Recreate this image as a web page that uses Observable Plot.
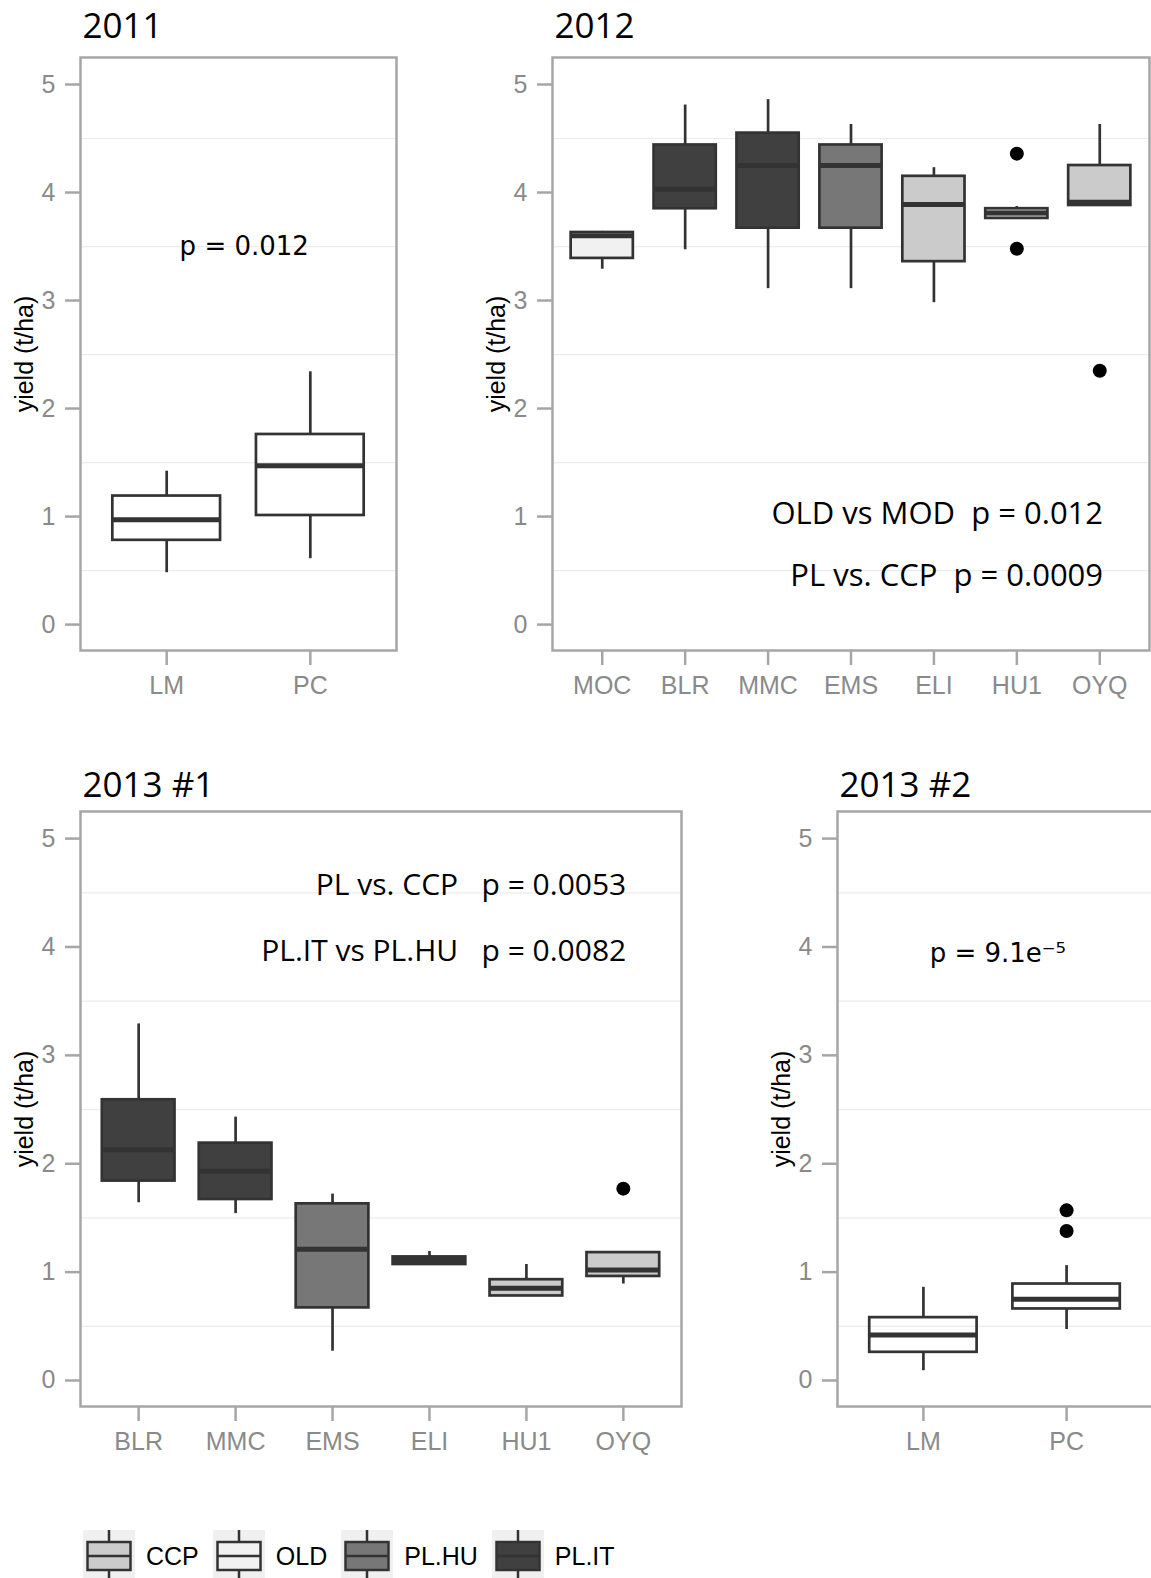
<!DOCTYPE html>
<html>
<head>
<meta charset="utf-8">
<script src="https://cdn.jsdelivr.net/npm/d3@7"></script>
<script src="https://cdn.jsdelivr.net/npm/@observablehq/plot@0.6"></script>
<style>
  html, body { margin: 0; padding: 0; background: #fff; }
  #page { position: relative; width: 1151px; height: 1578px; overflow: hidden; background: #fff; }
  .panel { position: absolute; }
  .panel svg { max-width: none !important; }
  svg text { white-space: pre; }
  #legend { position: absolute; left: 83px; top: 1530px; display: flex; align-items: center;
            font-family: "Liberation Sans", Arial, sans-serif; font-size: 25px; color: #000; }
  #legend span { margin-left: 11px; margin-right: 14px; }
</style>
</head>
<body>
<div id="page"><div id="legend"></div></div>
<script>
// ---------- data ----------
const groups = ["CCP", "OLD", "PL.HU", "PL.IT", "none"];
const groupColors = ["#cbcbcb", "#f1f1f1", "#777777", "#404040", "#ffffff"];
const legendGroups = ["CCP", "OLD", "PL.HU", "PL.IT"];

// 2011
const cats2011 = ["LM", "PC"];
const grp2011 = ["none", "none"];
const lo2011 = [0.48, 0.61];
const q1_2011 = [0.78, 1.01];
const med2011 = [0.97, 1.47];
const q3_2011 = [1.19, 1.76];
const hi2011 = [1.42, 2.34];
const outCat2011 = [];
const outVal2011 = [];
const notes2011 = ["p = 0.012"];
const noteX2011 = [1.54];
const noteY2011 = [3.42];

// 2012
const cats2012 = ["MOC", "BLR", "MMC", "EMS", "ELI", "HU1", "OYQ"];
const grp2012 = ["OLD", "PL.IT", "PL.IT", "PL.HU", "CCP", "CCP", "CCP"];
const lo2012 = [3.29, 3.47, 3.11, 3.11, 2.98, 3.76, 3.88];
const q1_2012 = [3.39, 3.85, 3.67, 3.67, 3.36, 3.76, 3.88];
const med2012 = [3.60, 4.03, 4.25, 4.25, 3.89, 3.81, 3.91];
const q3_2012 = [3.63, 4.44, 4.55, 4.44, 4.15, 3.85, 4.25];
const hi2012 = [3.64, 4.81, 4.86, 4.63, 4.23, 3.87, 4.63];
const outCat2012 = ["HU1", "HU1", "OYQ"];
const outVal2012 = [4.36, 3.48, 2.35];
const notes2012 = ["OLD vs MOD  p = 0.012", "PL vs. CCP  p = 0.0009"];
const noteX2012 = [7.04, 7.04];
const noteY2012 = [0.935, 0.361];

// 2013 #1
const cats2013a = ["BLR", "MMC", "EMS", "ELI", "HU1", "OYQ"];
const grp2013a = ["PL.IT", "PL.IT", "PL.HU", "PL.IT", "CCP", "CCP"];
const lo2013a = [1.64, 1.54, 0.27, 1.07, 0.78, 0.89];
const q1_2013a = [1.84, 1.67, 0.67, 1.07, 0.78, 0.96];
const med2013a = [2.13, 1.93, 1.21, 1.11, 0.85, 1.02];
const q3_2013a = [2.59, 2.19, 1.63, 1.14, 0.93, 1.18];
const hi2013a = [3.29, 2.43, 1.72, 1.19, 1.07, 1.18];
const outCat2013a = ["OYQ"];
const outVal2013a = [1.77];
const notes2013a = ["PL vs. CCP   p = 0.0053", "PL.IT vs PL.HU   p = 0.0082"];
const noteX2013a = [6.03, 6.03];
const noteY2013a = [4.484, 3.875];

// 2013 #2
const cats2013b = ["LM", "PC"];
const grp2013b = ["none", "none"];
const lo2013b = [0.09, 0.47];
const q1_2013b = [0.26, 0.66];
const med2013b = [0.42, 0.75];
const q3_2013b = [0.58, 0.89];
const hi2013b = [0.86, 1.06];
const outCat2013b = ["PC", "PC"];
const outVal2013b = [1.57, 1.38];
const notes2013b = ["p = 9.1e\u207B\u2075"];
const noteX2013b = [1.52];
const noteY2013b = [3.857];

const yTicks = [0, 1, 2, 3, 4, 5];
const yGrid = [0.5, 1.5, 2.5, 3.5, 4.5];
const yLabel = "yield (t/ha)";

// ---------- drawing ----------
const page = document.getElementById("page");
const BOX = "#333333";
const AXIS = "#a6a6a6";

function panel(cfg) {
  const n = cfg.cats.length;
  const boxes = cfg.cats.map((c, k) => ({
    i: k + 1, cat: c, group: cfg.grp[k],
    lo: cfg.lo[k], q1: cfg.q1[k], med: cfg.med[k], q3: cfg.q3[k], hi: cfg.hi[k]
  }));
  const outs = cfg.outCat.map((c, k) => ({i: cfg.cats.indexOf(c) + 1, v: cfg.outVal[k]}));
  const notes = cfg.notes.map((t, k) => ({t, x: cfg.noteX[k], y: cfg.noteY[k]}));
  const hw = 0.375;
  const chart = Plot.plot({
    width: cfg.width,
    height: cfg.height,
    marginLeft: cfg.mLeft,
    marginRight: cfg.mRight,
    marginTop: 57,
    marginBottom: 70,
    style: {fontFamily: "'Liberation Sans', Arial, sans-serif", background: "none", overflow: "visible", maxWidth: "none"},
    x: {type: "linear", domain: [0.4, n + 0.6]},
    y: {domain: [-0.24, 5.25]},
    color: {type: "ordinal", domain: groups, range: groupColors},
    marks: [
      Plot.gridY(yGrid, {stroke: "#ececec", strokeOpacity: 1, strokeWidth: 1.2}),
      Plot.ruleX(boxes, {x: "i", y1: "lo", y2: "q1", stroke: BOX, strokeWidth: 2.7}),
      Plot.ruleX(boxes, {x: "i", y1: "q3", y2: "hi", stroke: BOX, strokeWidth: 2.7}),
      Plot.rect(boxes, {x1: d => d.i - hw, x2: d => d.i + hw, y1: "q1", y2: "q3",
        fill: "group", stroke: BOX, strokeWidth: 2.7}),
      Plot.ruleY(boxes, {y: "med", x1: d => d.i - hw, x2: d => d.i + hw, stroke: BOX, strokeWidth: 5}),
      Plot.dot(outs, {x: "i", y: "v", r: 7, fill: "#000", stroke: "none"}),
      Plot.frame({stroke: AXIS, strokeWidth: 2.5}),
      Plot.axisY({ticks: yTicks, tickFormat: d3.format("d"), tickSize: 15, tickPadding: 10, fontSize: 25,
        stroke: AXIS, strokeWidth: 2.5, fill: "#8a8a8a", label: null}),
      Plot.axisX({ticks: d3.range(1, n + 1), tickFormat: i => cfg.cats[i - 1], tickSize: 15,
        tickPadding: 11, fontSize: 25, stroke: AXIS, strokeWidth: 2.5, fill: "#8a8a8a", label: null}),
      Plot.text([yLabel], {text: d => d, frameAnchor: "left", rotate: -90, dx: -56,
        textAnchor: "middle", lineAnchor: "middle", fontSize: 25, fill: "#000"}),
      Plot.text([cfg.title], {text: d => d, frameAnchor: "top-left", textAnchor: "start",
        lineAnchor: "bottom", dx: 2, dy: cfg.titleDy, fontSize: 35, fontFamily: "'Open Sans', sans-serif", fill: "#000"}),
      Plot.text(notes, {x: "x", y: "y", text: "t", textAnchor: cfg.noteAnchor, lineAnchor: "bottom",
        fontSize: cfg.noteSize, fontFamily: cfg.noteFont, fill: "#000"})
    ]
  });
  const div = document.createElement("div");
  div.className = "panel";
  div.style.left = cfg.left + "px";
  div.style.top = cfg.top + "px";
  div.style.width = cfg.width + "px";
  div.appendChild(chart);
  page.appendChild(div);
}

panel({title: "2011", cats: cats2011, grp: grp2011, lo: lo2011, q1: q1_2011, med: med2011, q3: q3_2011, hi: hi2011,
  outCat: outCat2011, outVal: outVal2011, notes: notes2011, noteX: noteX2011, noteY: noteY2011,
  noteAnchor: "middle", noteSize: 26, noteFont: "'DejaVu Sans', sans-serif",
  left: 0, top: 0, width: 400, height: 720, mLeft: 80, mRight: 4, titleDy: -20});

panel({title: "2012", cats: cats2012, grp: grp2012, lo: lo2012, q1: q1_2012, med: med2012, q3: q3_2012, hi: hi2012,
  outCat: outCat2012, outVal: outVal2012, notes: notes2012, noteX: noteX2012, noteY: noteY2012,
  noteAnchor: "end", noteSize: 31, noteFont: "'Open Sans', sans-serif",
  left: 470, top: 0, width: 681, height: 720, mLeft: 82, mRight: 2, titleDy: -20});

panel({title: "2013 #1", cats: cats2013a, grp: grp2013a, lo: lo2013a, q1: q1_2013a, med: med2013a, q3: q3_2013a, hi: hi2013a,
  outCat: outCat2013a, outVal: outVal2013a, notes: notes2013a, noteX: noteX2013a, noteY: noteY2013a,
  noteAnchor: "end", noteSize: 30, noteFont: "'Open Sans', sans-serif",
  left: 0, top: 754, width: 684, height: 722, mLeft: 80, mRight: 3, titleDy: -15});

panel({title: "2013 #2", cats: cats2013b, grp: grp2013b, lo: lo2013b, q1: q1_2013b, med: med2013b, q3: q3_2013b, hi: hi2013b,
  outCat: outCat2013b, outVal: outVal2013b, notes: notes2013b, noteX: noteX2013b, noteY: noteY2013b,
  noteAnchor: "middle", noteSize: 26, noteFont: "'DejaVu Sans', sans-serif",
  left: 760, top: 754, width: 395, height: 722, mLeft: 77, mRight: 3, titleDy: -15});

// ---------- legend ----------
const legend = d3.select("#legend");
legendGroups.forEach(g => {
  const fill = groupColors[groups.indexOf(g)];
  const s = legend.append("svg").attr("width", 52).attr("height", 52);
  s.append("rect").attr("width", 52).attr("height", 52).attr("fill", "#f0f0f0");
  s.append("line").attr("x1", 26).attr("x2", 26).attr("y1", 0).attr("y2", 52)
    .attr("stroke", BOX).attr("stroke-width", 2.5);
  s.append("rect").attr("x", 4.5).attr("y", 12).attr("width", 43).attr("height", 28)
    .attr("fill", fill).attr("stroke", BOX).attr("stroke-width", 2.5);
  s.append("line").attr("x1", 4.5).attr("x2", 47.5).attr("y1", 26).attr("y2", 26)
    .attr("stroke", BOX).attr("stroke-width", 2.5);
  legend.append("span").text(g);
});
</script>
</body>
</html>
